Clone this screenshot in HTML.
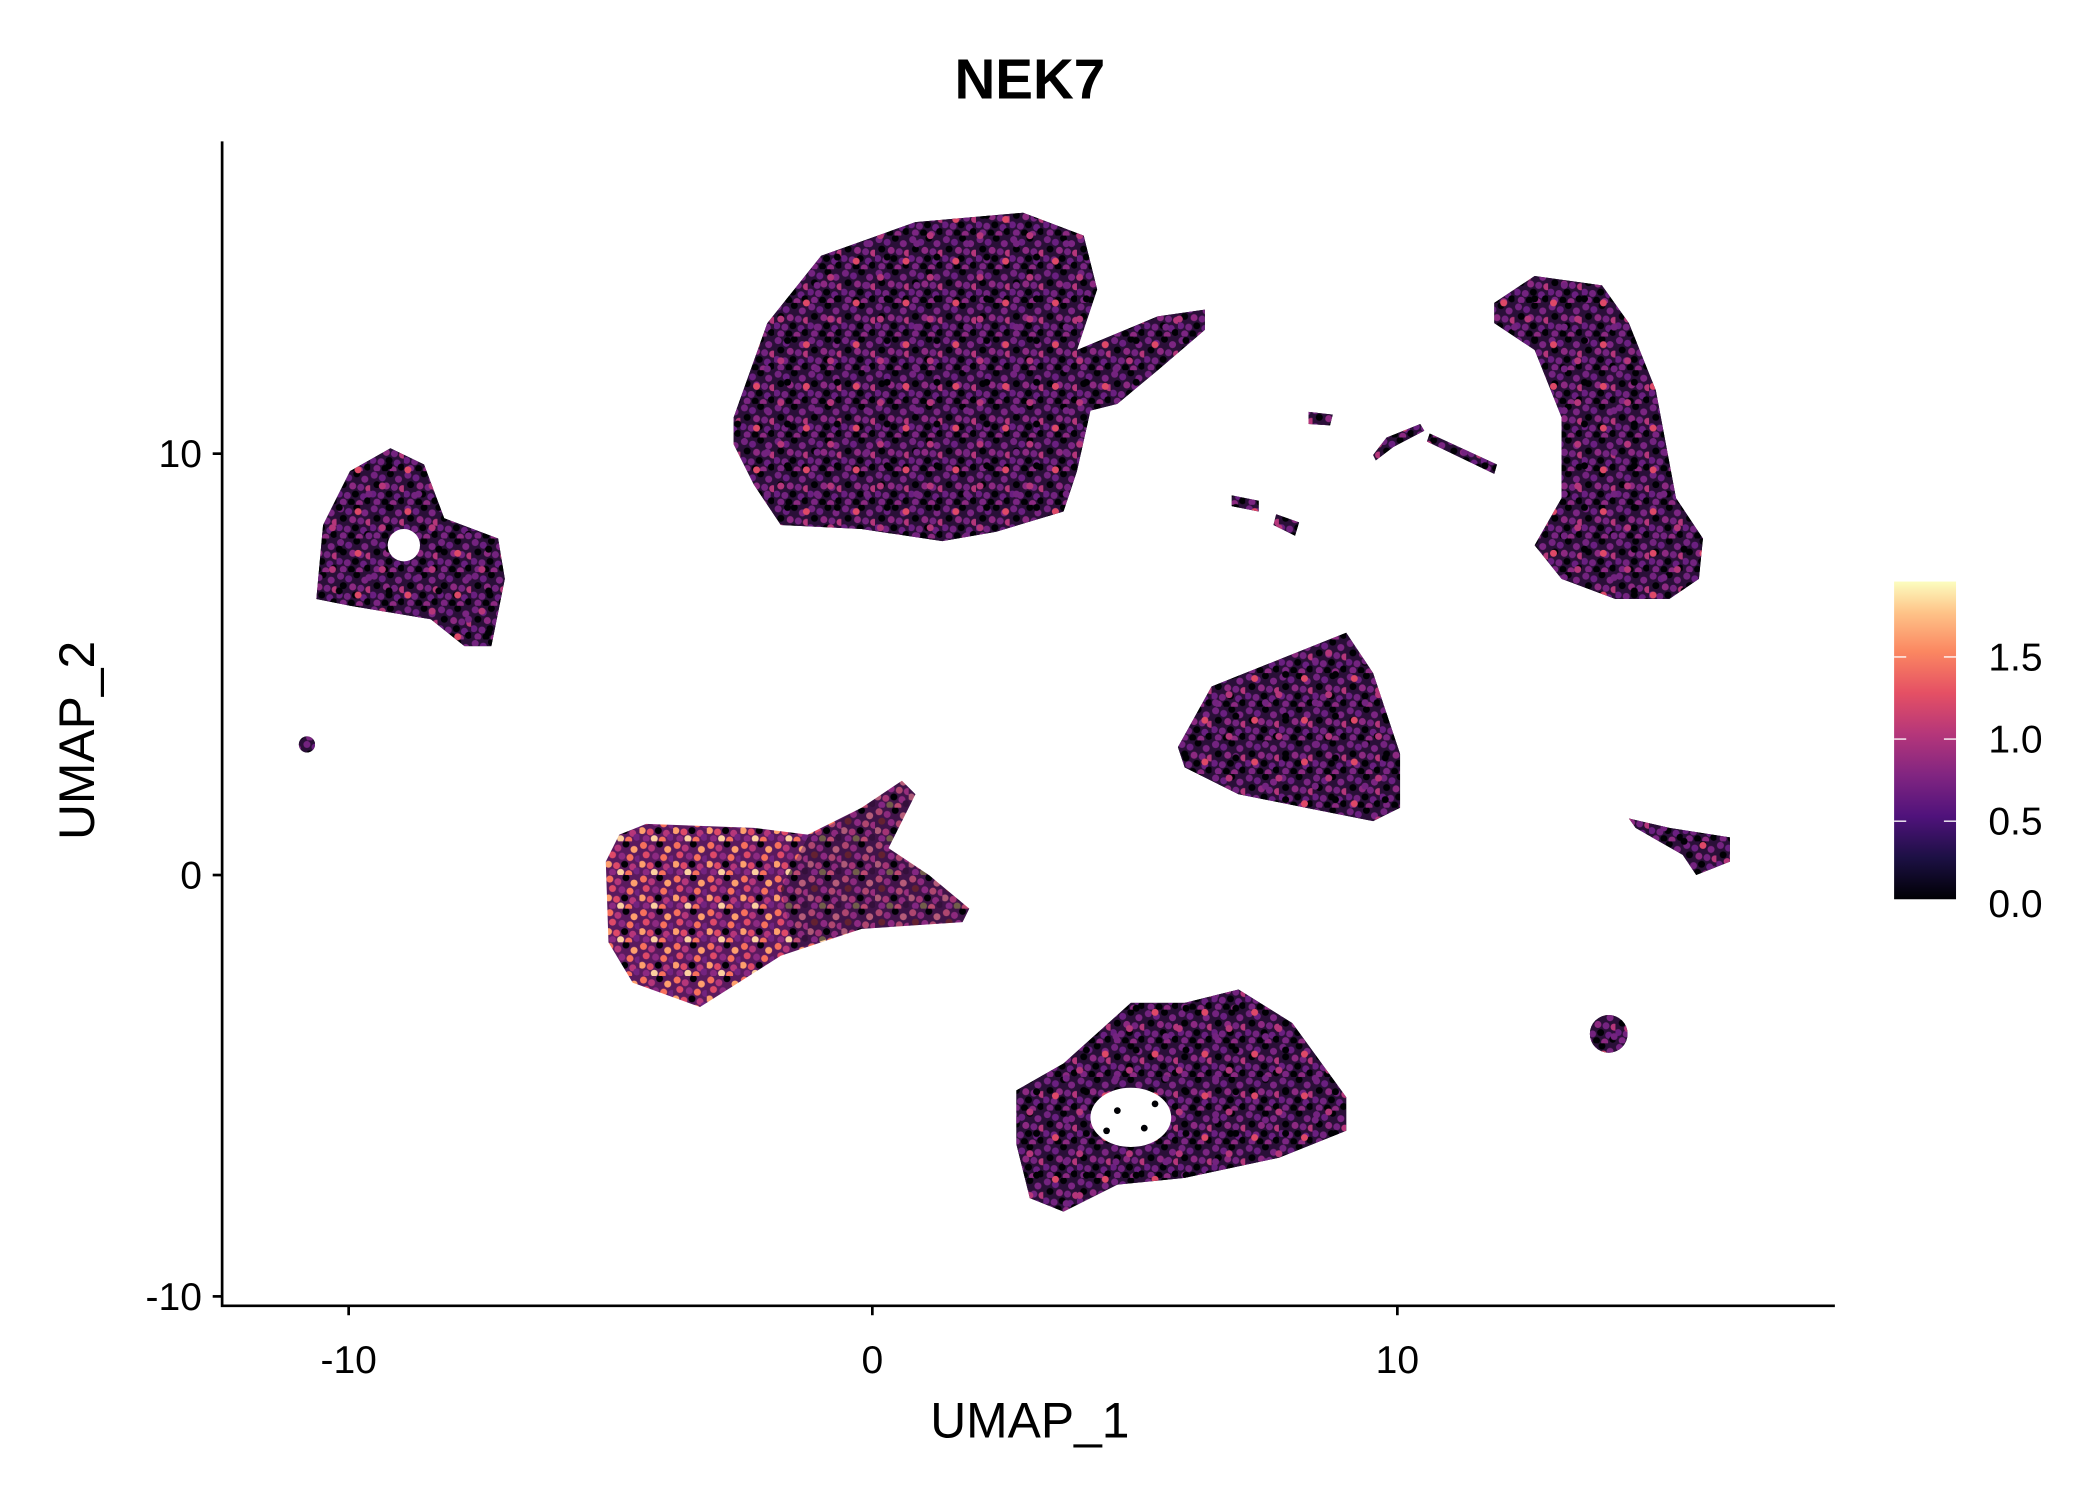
<!DOCTYPE html>
<html><head><meta charset="utf-8"><style>
html,body{margin:0;padding:0;background:#fff;}
svg{display:block;font-family:"Liberation Sans",sans-serif;}
</style></head><body>
<svg width="2100" height="1500" viewBox="0 0 2100 1500" xmlns="http://www.w3.org/2000/svg">
<defs>
<linearGradient id="cb" x1="0" y1="1" x2="0" y2="0">
<stop offset="0" stop-color="#000004"/>
<stop offset="0.13" stop-color="#1c1044"/>
<stop offset="0.26" stop-color="#4f127b"/>
<stop offset="0.39" stop-color="#812581"/>
<stop offset="0.52" stop-color="#b5367a"/>
<stop offset="0.65" stop-color="#e55064"/>
<stop offset="0.78" stop-color="#fb8761"/>
<stop offset="0.9" stop-color="#fec287"/>
<stop offset="1" stop-color="#fcfdbf"/>
</linearGradient>
<pattern id="pA" patternUnits="userSpaceOnUse" width="25" height="25">
<rect width="25" height="25" fill="#2a0f38"/>
<circle cx="3" cy="3" r="2.6" fill="#73237f"/><circle cx="9" cy="5" r="2.6" fill="#6a1f80"/>
<circle cx="15" cy="2" r="2.6" fill="#000004"/><circle cx="21" cy="6" r="2.6" fill="#7b2582"/>
<circle cx="5" cy="10" r="2.6" fill="#000004"/><circle cx="12" cy="11" r="2.6" fill="#8c2981"/>
<circle cx="18" cy="12" r="2.6" fill="#73237f"/><circle cx="24" cy="13" r="2.6" fill="#b5367a"/>
<circle cx="2" cy="17" r="2.6" fill="#6a1f80"/><circle cx="8" cy="18" r="2.6" fill="#73237f"/>
<circle cx="14" cy="17" r="2.6" fill="#000004"/><circle cx="20" cy="19" r="2.6" fill="#6a1f80"/>
<circle cx="5" cy="23" r="2.6" fill="#7b2582"/><circle cx="11" cy="23" r="2.6" fill="#000004"/>
<circle cx="17" cy="24" r="2.6" fill="#8c2981"/><circle cx="23" cy="22" r="2.6" fill="#000004"/>
</pattern>
<pattern id="pB" patternUnits="userSpaceOnUse" width="37" height="31">
<circle cx="7" cy="8" r="2.6" fill="#de4968"/><circle cx="25" cy="20" r="2.6" fill="#b5367a"/>
<circle cx="30" cy="5" r="2.6" fill="#000004"/><circle cx="15" cy="26" r="2.6" fill="#73237f"/>
</pattern>
<pattern id="pO" patternUnits="userSpaceOnUse" width="25" height="25">
<rect width="25" height="25" fill="#5a1a5e"/>
<circle cx="3" cy="3" r="2.6" fill="#f7705c"/><circle cx="9" cy="5" r="2.6" fill="#b5367a"/>
<circle cx="15" cy="2" r="2.6" fill="#000004"/><circle cx="21" cy="6" r="2.6" fill="#fe9f6d"/>
<circle cx="5" cy="10" r="2.6" fill="#de4968"/><circle cx="12" cy="11" r="2.6" fill="#8c2981"/>
<circle cx="18" cy="12" r="2.6" fill="#f7705c"/><circle cx="24" cy="13" r="2.6" fill="#73237f"/>
<circle cx="2" cy="17" r="2.6" fill="#fe9f6d"/><circle cx="8" cy="18" r="2.6" fill="#de4968"/>
<circle cx="14" cy="17" r="2.6" fill="#000004"/><circle cx="20" cy="19" r="2.6" fill="#b5367a"/>
<circle cx="5" cy="23" r="2.6" fill="#8c2981"/><circle cx="11" cy="23" r="2.6" fill="#fcd0a0"/>
<circle cx="17" cy="24" r="2.6" fill="#f7705c"/><circle cx="23" cy="22" r="2.6" fill="#73237f"/>
</pattern>
</defs>
<g transform="scale(1.3462)">
<g id="shapes">
<polygon points="545,310 570,240 610,190 680,165 760,158 805,175 815,215 800,260 860,235 895,230 895,245 860,275 830,300 810,305 800,350 790,380 740,395 700,402 640,393 580,390 560,360 545,330"/>
<polygon points="240,390 260,350 290,333 315,345 330,385 370,400 375,430 365,480 345,480 320,460 290,455 260,450 235,445"/>
<polygon points="755,810 790,790 840,745 880,745 920,735 960,760 1000,815 1000,840 950,860 880,875 830,880 790,900 765,890 755,850"/>
<polygon points="875,555 900,510 950,490 1000,470 1020,500 1040,560 1040,600 1020,610 970,600 920,590 880,570"/>
<polygon points="1110,225 1140,205 1190,212 1210,240 1230,290 1245,370 1265,400 1262,430 1240,445 1200,445 1160,430 1140,405 1160,370 1160,310 1140,260 1110,240"/>
<polygon points="1210,608 1240,615 1285,622 1285,640 1260,650 1250,635 1215,615"/>
<circle cx="228" cy="553" r="6"/><circle cx="1195" cy="768" r="14"/>
<polygon points="1020,338 1030,325 1055,315 1058,320 1035,332 1022,342"/>
<polygon points="1062,322 1112,345 1110,352 1060,328"/>
<polygon points="915,368 935,372 935,380 915,376"/><polygon points="948,382 965,388 962,398 946,390"/>
<polygon points="972,306 990,308 988,316 972,315"/>
</g>
<use href="#shapes" fill="url(#pA)"/>
<use href="#shapes" fill="url(#pB)"/>
<polygon fill="url(#pO)" points="450,640 460,620 480,612 560,615 600,620 640,600 670,580 680,590 660,630 690,650 720,675 715,685 640,690 580,710 520,748 470,730 452,700"/>
<polygon fill="url(#pA)" opacity="0.55" points="600,622 640,600 670,580 680,590 660,630 690,650 720,675 715,685 640,690 590,705 580,660"/>
<circle cx="300" cy="405" r="12" fill="#fff"/>
<ellipse cx="840" cy="830" rx="30" ry="22" fill="#fff"/>
<g fill="#000004"><circle cx="830" cy="825" r="2.5"/><circle cx="850" cy="838" r="2.5"/><circle cx="822" cy="840" r="2.5"/><circle cx="858" cy="820" r="2.5"/></g>
<path d="M165,105 V970 H1363" fill="none" stroke="#000" stroke-width="2"/>
<g stroke="#000" stroke-width="2"><line x1="259" y1="970" x2="259" y2="977"/><line x1="648" y1="970" x2="648" y2="977"/><line x1="1038" y1="970" x2="1038" y2="977"/>
<line x1="158" y1="337" x2="165" y2="337"/><line x1="158" y1="650" x2="165" y2="650"/><line x1="158" y1="963" x2="165" y2="963"/></g>
<g font-size="29" fill="#000">
<text x="259" y="1020" text-anchor="middle">-10</text><text x="648" y="1020" text-anchor="middle">0</text><text x="1038" y="1020" text-anchor="middle">10</text>
<text x="150" y="347" text-anchor="end">10</text><text x="150" y="660" text-anchor="end">0</text><text x="150" y="973" text-anchor="end">-10</text>
</g>
<text x="765" y="1068" font-size="37" text-anchor="middle">UMAP_1</text>
<text transform="translate(70,550) rotate(-90)" font-size="37" text-anchor="middle">UMAP_2</text>
<text x="765" y="73" font-size="42" font-weight="bold" text-anchor="middle">NEK7</text>
<rect x="1407" y="432" width="46" height="236" fill="url(#cb)"/>
<g stroke="#fff" stroke-width="1"><line x1="1407" y1="488" x2="1416" y2="488"/><line x1="1444" y1="488" x2="1453" y2="488"/>
<line x1="1407" y1="549" x2="1416" y2="549"/><line x1="1444" y1="549" x2="1453" y2="549"/>
<line x1="1407" y1="610" x2="1416" y2="610"/><line x1="1444" y1="610" x2="1453" y2="610"/></g>
<g font-size="29"><text x="1477" y="498">1.5</text><text x="1477" y="559">1.0</text><text x="1477" y="620">0.5</text><text x="1477" y="681">0.0</text></g>
</g>
</svg>
</body></html>
